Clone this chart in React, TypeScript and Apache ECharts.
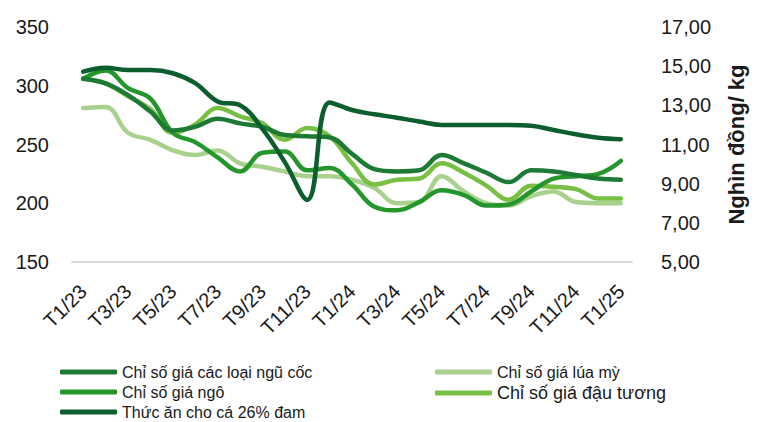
import React, { useEffect, useRef } from "react";
import * as echarts from "echarts";

const categories = [
  "T1/23", "T2/23", "T3/23", "T4/23", "T5/23", "T6/23", "T7/23", "T8/23", "T9/23", "T10/23", "T11/23", "T12/23",
  "T1/24", "T2/24", "T3/24", "T4/24", "T5/24", "T6/24", "T7/24", "T8/24", "T9/24", "T10/24", "T11/24", "T12/24",
  "T1/25",
];

const cereals = [306, 302, 292, 278, 262, 265, 272, 268, 265, 258, 257, 256, 242, 229, 227, 228, 241, 234, 226, 218, 228, 227, 224, 221, 220];
const wheat = [281, 282, 260, 254, 245, 241, 245, 234, 231, 227, 223, 223, 220, 213, 200, 201, 223, 210, 200, 198, 206, 210, 201, 200, 200];
const corn = [306, 313, 298, 289, 260, 252, 239, 227, 243, 244, 228, 230, 216, 197, 194, 201, 211, 207, 198, 199, 210, 221, 223, 225, 236];
const soy = [306, 302, 291, 280, 260, 267, 281, 274, 268, 254, 264, 257, 234, 216, 220, 221, 234, 226, 215, 203, 215, 214, 212, 204, 204];
const fishFeed = [14.72, 14.92, 14.8, 14.8, 14.64, 14.13, 13.2, 13.0, 11.8, 10.1, 8.17, 13.15, 12.76, 12.54, 12.37, 12.17, 12.0, 12.0, 12.0, 12.0, 11.96, 11.74, 11.52, 11.35, 11.27];

const leftTicks = { min: 150, max: 350, interval: 50 };
const rightTicks = { min: 5, max: 17, interval: 2 };

const NAMES = {
  cereals: "Chỉ số giá các loại ngũ cốc",
  wheat: "Chỉ số giá lúa mỳ",
  corn: "Chỉ số giá ngô",
  soy: "Chỉ số giá đậu tương",
  fish: "Thức ăn cho cá 26% đam",
};

const COLORS = {
  cereals: "#1c7a35",
  wheat: "#a9d18e",
  corn: "#25962b",
  soy: "#77c043",
  fish: "#0c5e2e",
};

const FONT = "Liberation Sans, Arial, sans-serif";

export default function App() {
  const ref = useRef<HTMLDivElement>(null);

  useEffect(() => {
    if (!ref.current) return;
    const chart = echarts.init(ref.current, null, { renderer: "svg" });
    const lineSeries = (key: keyof typeof NAMES, data: number[], yAxisIndex = 0, z = 2) => ({
      name: NAMES[key],
      type: "line",
      data,
      yAxisIndex,
      smooth: 0.4,
      showSymbol: false,
      symbol: "none",
      z,
      lineStyle: { color: COLORS[key], width: 4.5, cap: "round", join: "round" },
      itemStyle: { color: COLORS[key] },
    });
    const legendCommon = {
      orient: "vertical",
      icon: "roundRect",
      itemWidth: 57,
      itemHeight: 5,
      itemGap: 4,
      height: 70,
      padding: 0,
      textStyle: { fontFamily: FONT, fontSize: 16, color: "#1a1a1a", lineHeight: 16 },
      selectedMode: false,
    };
    chart.setOption({
      animation: false,
      grid: { left: 72, right: 127, top: 27, bottom: 160, containLabel: false },
      legend: [
        {
          ...legendCommon,
          left: 60,
          top: 364,
          data: [NAMES.cereals, NAMES.corn, NAMES.fish],
        },
        {
          ...legendCommon,
          left: 435,
          top: 364,
          data: [NAMES.wheat, { name: NAMES.soy, textStyle: { fontSize: 18 } }],
        },
      ],
      xAxis: {
        type: "category",
        data: categories,
        boundaryGap: true,
        axisLine: { show: true, lineStyle: { color: "#d9d9d9", width: 2 } },
        axisTick: { show: false },
        axisLabel: {
          interval: 1,
          rotate: 45,
          margin: 26,
          fontFamily: FONT,
          fontSize: 20,
          color: "#1a1a1a",
        },
        splitLine: { show: false },
      },
      yAxis: [
        {
          type: "value",
          position: "left",
          ...leftTicks,
          axisLine: { show: false },
          axisTick: { show: false },
          splitLine: { show: false },
          axisLabel: { margin: 23, fontFamily: FONT, fontSize: 20, color: "#1a1a1a" },
        },
        {
          type: "value",
          position: "right",
          ...rightTicks,
          name: "Nghìn đồng/ kg",
          nameLocation: "middle",
          nameRotate: 90,
          nameGap: 93,
          nameTextStyle: { fontFamily: FONT, fontSize: 22, fontWeight: "bold", color: "#1a1a1a" },
          axisLine: { show: false },
          axisTick: { show: false },
          splitLine: { show: false },
          axisLabel: {
            margin: 29,
            fontFamily: FONT,
            fontSize: 20,
            color: "#1a1a1a",
            formatter: (v: number) => v.toFixed(2).replace(".", ","),
          },
        },
      ],
      series: [
        lineSeries("wheat", wheat, 0, 1),
        lineSeries("soy", soy, 0, 2),
        lineSeries("corn", corn, 0, 3),
        lineSeries("cereals", cereals, 0, 4),
        lineSeries("fish", fishFeed, 1, 5),
      ],
    });
    return () => chart.dispose();
  }, []);

  return (
    <div
      ref={ref}
      style={{ position: "fixed", left: 0, top: 0, width: 759, height: 422, background: "#fff" }}
    />
  );
}
